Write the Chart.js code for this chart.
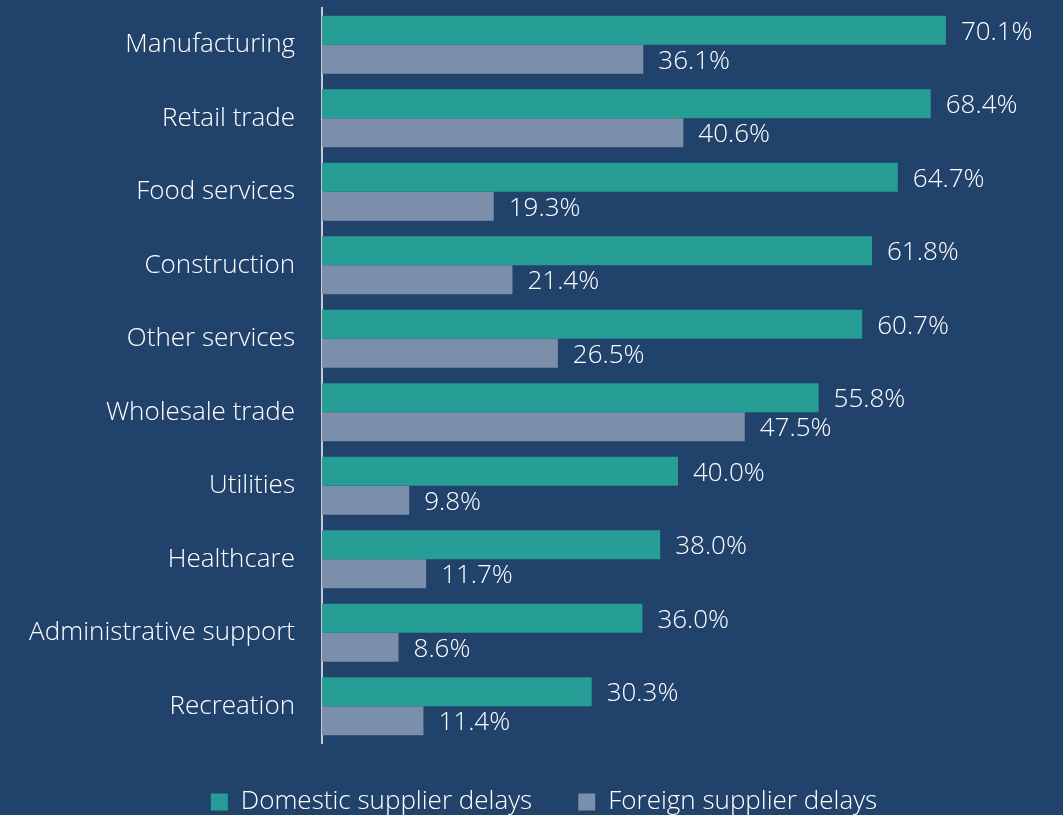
<!DOCTYPE html>
<html>
<head>
<meta charset="utf-8">
<script src="https://cdn.jsdelivr.net/npm/chart.js@4"></script>
<style>
  html, body { margin: 0; padding: 0; background: #21426b; }
  #wrap { width: 1063px; height: 815px; position: relative; }
</style>
</head>
<body>
<div id="wrap"><canvas id="chart"></canvas></div>
<script>
// industries, top to bottom
const categories = [
    'Manufacturing', 'Retail trade', 'Food services', 'Construction', 'Other services',
    'Wholesale trade', 'Utilities', 'Healthcare', 'Administrative support', 'Recreation'
];
const domesticDelays = [70.1, 68.4, 64.7, 61.8, 60.7, 55.8, 40.0, 38.0, 36.0, 30.3];
const foreignDelays = [36.1, 40.6, 19.3, 21.4, 26.5, 47.5, 9.8, 11.7, 8.6, 11.4];
const seriesNames = ['Domestic supplier delays', 'Foreign supplier delays'];

const COLORS = {
    bg: '#21426b',
    domestic: '#269e95',
    foreign: '#7b8fab',
    text: '#ffffff',
    axis: '#c8ccd2'
};
const FONT = "'Open Sans', sans-serif";

// draws the percentage at the end of each bar
const valueLabels = {
    id: 'valueLabels',
    afterDatasetsDraw(chart) {
        const ctx = chart.ctx;
        ctx.save();
        ctx.fillStyle = COLORS.text;
        ctx.font = `300 26px ${FONT}`;
        ctx.textAlign = 'left';
        ctx.textBaseline = 'middle';
        chart.data.datasets.forEach((ds, i) => {
            chart.getDatasetMeta(i).data.forEach((bar, j) => {
                ctx.fillText(ds.data[j].toFixed(1) + '%', bar.x + 15, bar.y + 2);
            });
        });
        ctx.restore();
    }
};

// the legend sits a little right of the canvas centre in the original
const legendShift = {
    id: 'legendShift',
    afterLayout(chart) {
        if (!chart.legend) return;
        chart.legend.left += 27;
        chart.legend.right += 27;
    }
};

new Chart(document.getElementById('chart'), {
    type: 'bar',
    data: {
        labels: categories,
        datasets: [
            { label: seriesNames[0], data: domesticDelays, backgroundColor: COLORS.domestic },
            { label: seriesNames[1], data: foreignDelays, backgroundColor: COLORS.foreign }
        ]
    },
    options: {
        indexAxis: 'y',
        responsive: true,
        maintainAspectRatio: false,
        animation: false,
        datasets: { bar: { barPercentage: 1, categoryPercentage: 0.79 } },
        layout: { padding: { top: 8, right: 29, left: 0, bottom: -10 } },
        plugins: {
            tooltip: { enabled: false },
            legend: {
                position: 'bottom',
                labels: {
                    color: COLORS.text,
                    boxWidth: 17,
                    boxHeight: 17,
                    padding: 46,
                    font: { family: FONT, size: 26, weight: 300 }
                }
            }
        },
        scales: {
            x: { display: false, min: 0, max: 80 },
            y: {
                afterFit(scale) {
                    scale.width = 322;
                    scale.paddingTop = 0;
                    scale.paddingBottom = 0;
                },
                grid: { display: false },
                border: { display: true, color: COLORS.axis, width: 2 },
                ticks: {
                    color: COLORS.text,
                    padding: 19,
                    font: { family: FONT, size: 26, weight: 300 }
                }
            }
        }
    },
    plugins: [valueLabels, legendShift]
});
</script>
</body>
</html>
